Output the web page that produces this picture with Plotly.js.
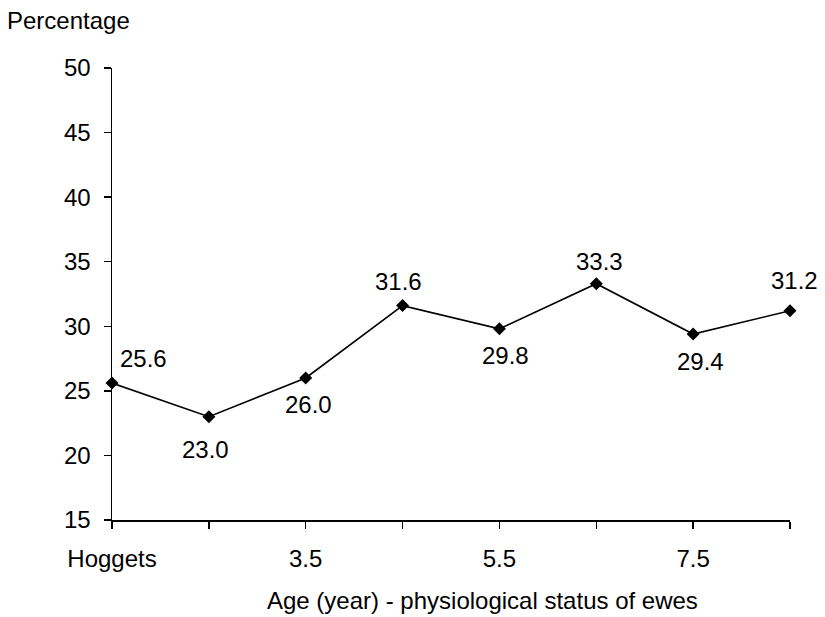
<!DOCTYPE html>
<html>
<head>
<meta charset="utf-8">
<script src="https://cdn.plot.ly/plotly-3.0.1.min.js"></script>
<style>html,body{margin:0;padding:0;background:#fff;}#chart{width:825px;height:617px;}</style>
</head>
<body>
<div id="chart"></div>
<script>
var categories = ["Hoggets", "2.5", "3.5", "4.5", "5.5", "6.5", "7.5", "8.5"];
var percentages = [25.6, 23.0, 26.0, 31.6, 29.8, 33.3, 29.4, 31.2];
var valueLabels = ["25.6", "23.0", "26.0", "31.6", "29.8", "33.3", "29.4", "31.2"];
var shownTickLabels = ["Hoggets", "", "3.5", "", "5.5", "", "7.5", ""];
var yTicks = [15, 20, 25, 30, 35, 40, 45, 50];

// label placement offsets in pixels (style, kept apart from the data)
var labelDx = [31, -3, 3, -4, 6, 3, 7, 4];
var labelDy = [25, -33, -27, 24, -27, 22, -27, 30];

var FONT = "Liberation Sans, Arial, Helvetica, sans-serif";
var FS = 24;

var trace = {
  x: categories,
  y: percentages,
  type: "scatter",
  mode: "lines+markers",
  line: {color: "#000", width: 1.6},
  marker: {symbol: "diamond", size: 10, color: "#000"},
  cliponaxis: false,
  hoverinfo: "x+y"
};

// on a category axis, annotations are positioned by category index
var labelAnnotations = categories.map(function (c, i) {
  return {
    x: i, y: percentages[i], xref: "x", yref: "y",
    text: valueLabels[i], showarrow: false,
    xanchor: "center", yanchor: "middle",
    xshift: labelDx[i], yshift: labelDy[i],
    font: {family: FONT, size: FS, color: "#000"}
  };
});

var layout = {
  width: 825,
  height: 617,
  margin: {l: 112, r: 35, t: 68, b: 97, pad: 0},
  paper_bgcolor: "#fff",
  plot_bgcolor: "#fff",
  showlegend: false,
  font: {family: FONT, size: FS, color: "#000"},
  xaxis: {
    type: "category",
    range: [0, categories.length - 1],
    tickmode: "array",
    tickvals: categories,
    ticktext: shownTickLabels,
    ticks: "outside",
    ticklen: 7,
    tickwidth: 1.5,
    tickcolor: "#000",
    ticklabelstandoff: 10,
    showline: true,
    linecolor: "#000",
    linewidth: 1.5,
    showgrid: false,
    zeroline: false,
    tickfont: {family: FONT, size: FS, color: "#000"}
  },
  yaxis: {
    range: [15, 50],
    tickmode: "array",
    tickvals: yTicks,
    ticktext: yTicks.map(String),
    ticks: "outside",
    ticklen: 7,
    tickwidth: 1.5,
    tickcolor: "#000",
    ticklabelstandoff: 8,
    showline: true,
    linecolor: "#000",
    linewidth: 1.5,
    showgrid: false,
    zeroline: false,
    tickfont: {family: FONT, size: FS, color: "#000"}
  },
  annotations: [
    {
      text: "Percentage",
      xref: "paper", yref: "paper",
      x: (5 - 112) / 678, y: 1 + (68 - 20) / 452,
      xanchor: "left", yanchor: "middle",
      showarrow: false,
      font: {family: FONT, size: FS, color: "#000"}
    },
    {
      text: "Age (year) - physiological status of ewes",
      xref: "paper", yref: "paper",
      x: (482 - 112) / 678, y: -(600 - 520) / 452,
      xanchor: "center", yanchor: "middle",
      showarrow: false,
      font: {family: FONT, size: FS, color: "#000"}
    }
  ].concat(labelAnnotations)
};

Plotly.newPlot("chart", [trace], layout, {displayModeBar: false, staticPlot: true});
</script>
</body>
</html>
